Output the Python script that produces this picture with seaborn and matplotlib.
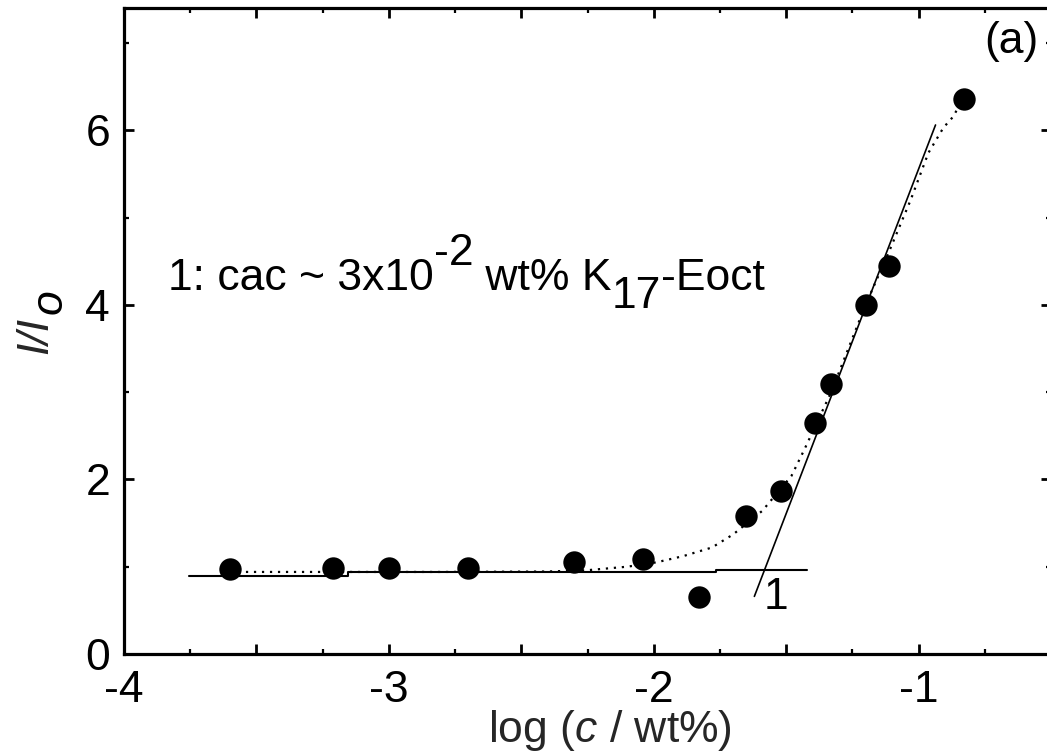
import matplotlib
matplotlib.use("Agg")
import matplotlib.pyplot as plt
import matplotlib.transforms as mtransforms
from matplotlib.ticker import FixedLocator, MultipleLocator
import seaborn as sns

# Measured intensity ratio I/Io against log concentration
log_c = [-3.60, -3.21, -3.00, -2.70, -2.30, -2.04, -1.83, -1.65, -1.52, -1.39, -1.33, -1.20, -1.11, -0.83]
ratio = [0.97, 0.98, 0.98, 0.98, 1.05, 1.09, 0.65, 1.58, 1.87, 2.65, 3.09, 4.00, 4.45, 6.36]

# Dotted guide curve through the measurements
guide_x = [-3.60, -3.20, -2.80, -2.40, -2.25, -2.10, -1.99, -1.89, -1.78, -1.70, -1.59,
           -1.48, -1.43, -1.33, -1.20, -1.11, -1.03, -0.963, -0.906, -0.868, -0.834]
guide_y = [0.94, 0.94, 0.94, 0.945, 0.96, 1.00, 1.05, 1.12, 1.22, 1.37, 1.64,
           2.04, 2.35, 3.00, 4.00, 4.62, 5.20, 5.74, 6.03, 6.16, 6.36]

# Plateau below the cac and straight rising branch above it
plateau_x = [-3.755, -3.155, -1.763, -1.42]
plateau_y = [0.89, 0.935, 0.96, 0.96]
rise_x = [-1.62, -0.936]
rise_y = [0.66, 6.06]

# Axis ticks
x_ticks = [-4, -3.5, -3, -2.5, -2, -1.5, -1, -0.5]
x_ticklabels = ["-4", "", "-3", "", "-2", "", "-1", ""]
y_ticks = [0, 2, 4, 6]
y_ticklabels = ["0", "2", "4", "6"]

sns.set_theme(style="ticks")
plt.rcParams["font.family"] = ["Liberation Sans", "DejaVu Sans"]
plt.rcParams.update({
    "axes.unicode_minus": False,
    "mathtext.fontset": "custom",
    "mathtext.rm": "Liberation Sans",
    "mathtext.it": "Liberation Sans:italic",
    "mathtext.bf": "Liberation Sans:bold",
    "text.color": "black",
    "axes.edgecolor": "black",
    "xtick.color": "black",
    "ytick.color": "black",
})

FS = 32
fig = plt.figure(figsize=(10.47, 7.55), dpi=100)
ax = fig.add_axes([124 / 1047, 101 / 755, 927 / 1047, 646 / 755])

sns.lineplot(x=plateau_x, y=plateau_y, sort=False, estimator=None, color="black",
             lw=1.5, drawstyle="steps-post", ax=ax)
sns.lineplot(x=rise_x, y=rise_y, sort=False, estimator=None, color="black", lw=1.2, ax=ax)
sns.lineplot(x=guide_x, y=guide_y, sort=False, estimator=None, color="black",
             lw=1.6, linestyle=(0, (1, 2.6)), ax=ax)
sns.scatterplot(x=log_c, y=ratio, color="black", s=260, linewidth=0, ax=ax, zorder=3)

ax.set_xlim(-4, -0.5)
ax.set_ylim(0, 7.4)
ax.xaxis.set_major_locator(FixedLocator(x_ticks))
ax.set_xticklabels(x_ticklabels)
ax.xaxis.set_minor_locator(MultipleLocator(0.25))
ax.yaxis.set_major_locator(FixedLocator(y_ticks))
ax.set_yticklabels(y_ticklabels)
ax.yaxis.set_minor_locator(MultipleLocator(1))

for side in ["left", "right", "top", "bottom"]:
    ax.spines[side].set_visible(True)
    ax.spines[side].set_linewidth(2.3)
    ax.spines[side].set_color("black")

ax.tick_params(which="both", direction="in", top=True, right=True, labelsize=FS)
ax.tick_params(which="major", length=7.5, width=2.0)
ax.tick_params(which="minor", length=3.5, width=1.6)
ax.tick_params(axis="x", which="major", pad=11.5)
ax.tick_params(axis="y", which="major", pad=10)

ax.set_xlabel(r"log ($\mathit{c}$ / wt%)", fontsize=FS)
ax.xaxis.label.set_va("baseline")
ax.xaxis.set_label_coords((610 - 124) / 927, (654 - 742) / 646)

# y label: italic I/I with a full-size lowered "o"
ax.set_ylabel("I/I", fontsize=FS, style="italic")
ax.yaxis.label.set_rotation_mode("anchor")
ax.yaxis.label.set_ha("left")
ax.yaxis.label.set_va("baseline")
ax.yaxis.set_label_coords((47 - 124) / 927, (654 - 354) / 646)
ax.text((62 - 124) / 927, (654 - 314) / 646, "o", transform=ax.transAxes, fontsize=FS,
        style="italic", rotation=90, rotation_mode="anchor", ha="left", va="baseline")

# Annotation built piece by piece so the exponent and subscript keep full size
renderer = fig.canvas.get_renderer()
pieces = [("1: cac ~ 3x10", 0), ("-2", 25), ("\u00a0wt% K", 0), ("17", -18), ("-Eoct", 0)]
dx = 0.0
for s, dy in pieces:
    tr = mtransforms.offset_copy(ax.transData, fig=fig, x=dx, y=dy, units="dots")
    t = ax.text(-3.834, 4.168, s, transform=tr, ha="left", va="baseline", fontsize=FS)
    dx += t.get_window_extent(renderer).width

ax.text(-1.586, 0.51, "1", ha="left", va="baseline", fontsize=FS)
ax.text(-0.751, 6.89, "(a)", ha="left", va="baseline", fontsize=FS)

fig.savefig("out.png", dpi=100)
